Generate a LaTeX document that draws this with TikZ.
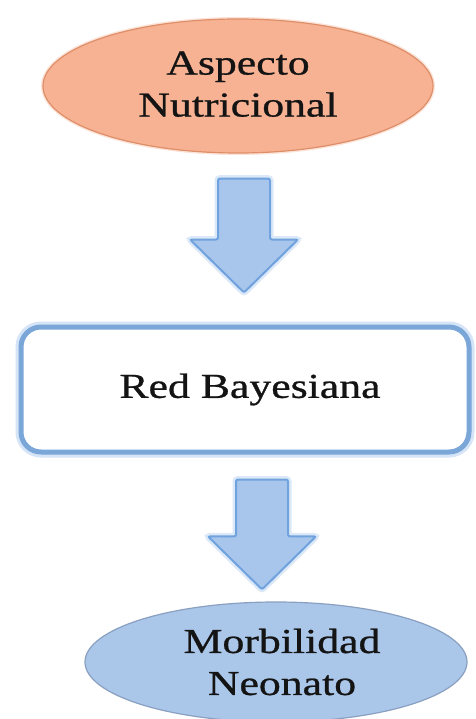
\documentclass[tikz,border=0pt]{standalone}
\usepackage{fontspec}
\usepackage{graphicx}
\setmainfont{Liberation Serif}
\newfontfamily\lblfont[AutoFakeBold=0.7]{Liberation Serif}
\usetikzlibrary{calc,shapes.geometric}

\definecolor{salmon}{RGB}{246,178,147}
\definecolor{salmonedge}{RGB}{222,142,104}
\definecolor{skyfill}{RGB}{170,198,233}
\definecolor{skyedge}{RGB}{138,160,192}
\definecolor{arrowfill}{RGB}{168,198,236}
\definecolor{arrowedge}{RGB}{112,162,222}
\definecolor{frameblue}{RGB}{122,166,216}
\definecolor{glowblue}{RGB}{185,210,240}

% wide lettering
\newcommand\widetext[1]{\scalebox{1.25}[1]{#1}}

% block arrow from a start point (top of shaft) to its tip
\newcommand\blockarrow[2]{%
  \path[arrowbody] let \p1=(#1), \p2=(#2) in
    (\x1-26pt,\y1) -- (\x1+26pt,\y1) -- (\x1+26pt,\y2+53pt) --
    (\x1+54pt,\y2+53pt) -- (\x2,\y2) -- (\x1-54pt,\y2+53pt) --
    (\x1-26pt,\y2+53pt) -- cycle;}

\tikzset{
  lbl/.style={font=\lblfont\bfseries\fontsize{35}{42}\selectfont, align=center, text=black!92},
  topoval/.style={ellipse, lbl, draw=salmonedge, line width=1.2pt, fill=salmon,
    minimum width=390pt, minimum height=134pt, inner sep=0pt,
    preaction={draw=salmon!60!white, line width=4pt, opacity=0.6}},
  bottomoval/.style={ellipse, lbl, draw=skyedge, line width=1.2pt, fill=skyfill,
    minimum width=382pt, minimum height=120pt, inner sep=0pt},
  netbox/.style={rectangle, lbl, rounded corners=20pt, draw=frameblue, line width=5pt,
    fill=white, minimum width=448pt, minimum height=125pt, inner sep=0pt,
    preaction={draw=glowblue, line width=11pt, opacity=0.6}},
  arrowbody/.style={fill=arrowfill, draw=arrowedge, line width=2pt, rounded corners=2pt,
    preaction={draw=glowblue, line width=7pt, opacity=0.5}}
}

\begin{document}
\begin{tikzpicture}[x=1pt, y=-1pt]
  \useasboundingbox[fill=white] (0,0) rectangle (475,719);

  \node[topoval] (aspecto) at (238,86)
    {\raisebox{4pt}{\widetext{Aspecto}}\\\raisebox{4pt}{\widetext{Nutricional}}};
  \node[netbox] (bayes) at (245,389.5)
    {\hspace*{10pt}\raisebox{-5pt}{\widetext{Red Bayesiana}}};
  \node[bottomoval] (morb) at (276,662)
    {\hspace*{12pt}\widetext{Morbilidad}\\\hspace*{12pt}\widetext{Neonato}};

  % arrow end points
  \coordinate (a1s) at ($(aspecto.south)+(6,25)$);
  \coordinate (a1e) at ($(bayes.north)+(-1,-32)$);
  \coordinate (a2s) at ($(bayes.south)+(17,25)$);
  \coordinate (a2e) at ($(morb.north)+(-14,-12)$);

  \blockarrow{a1s}{a1e}
  \blockarrow{a2s}{a2e}
\end{tikzpicture}
\end{document}
